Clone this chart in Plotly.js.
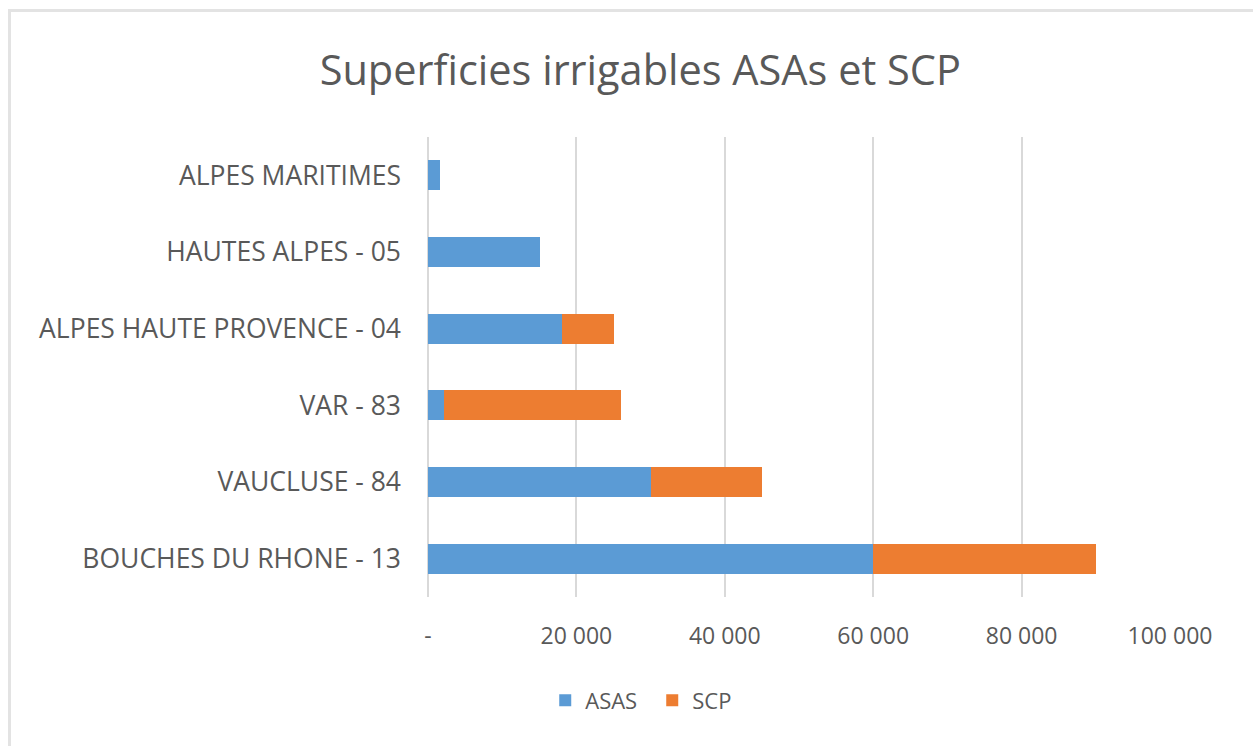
<!DOCTYPE html>
<html>
<head>
<meta charset="utf-8">
<script src="https://cdn.plot.ly/plotly-3.0.1.min.js"></script>
<style>
  html, body { margin: 0; padding: 0; background: #fff; overflow: hidden; }
  #chart { position: absolute; left: 0; top: 0; width: 1253px; height: 746px; }
  #frame { position: absolute; left: 8px; top: 9px; width: 1260px; height: 760px;
           border-left: 3px solid #e3e3e3; border-top: 3px solid #e3e3e3; pointer-events: none; }
</style>
</head>
<body>
<div id="chart"></div>
<div id="frame"></div>
<script>
const categories = ["ALPES MARITIMES", "HAUTES ALPES - 05", "ALPES HAUTE PROVENCE - 04", "VAR - 83", "VAUCLUSE - 84", "BOUCHES DU RHONE - 13"];
const asas = [1600, 15100, 18000, 2100, 30000, 60000];
const scp = [0, 0, 7000, 23900, 15000, 30000];
const tickValues = [0, 20000, 40000, 60000, 80000, 100000];
const tickLabels = ["-", "20 000", "40 000", "60 000", "80 000", "100 000"];

const FONT = "Open Sans, sans-serif";
const GREY = "#595959";

const traces = [
  { type: "bar", orientation: "h", name: "ASAS", y: categories, x: asas,
    marker: { color: "#5B9BD5" }, hoverinfo: "x+y+name" },
  { type: "bar", orientation: "h", name: "SCP", y: categories, x: scp,
    marker: { color: "#ED7D31" }, hoverinfo: "x+y+name" }
];

const layout = {
  width: 1253, height: 746,
  paper_bgcolor: "#fff", plot_bgcolor: "#fff",
  barmode: "stack", bargap: 0.61,
  margin: { l: 428, r: 83, t: 137, b: 149 },
  font: { family: FONT, color: GREY },
  title: { text: "Superficies irrigables ASAs et SCP", x: 0.511, xanchor: "center",
           y: 0.905, yanchor: "middle", font: { family: FONT, size: 41.5, color: GREY } },
  xaxis: { range: [0, 100000], tickvals: tickValues, ticktext: tickLabels,
           showgrid: true, gridcolor: "#d9d9d9", gridwidth: 2,
           zeroline: true, zerolinecolor: "#d9d9d9", zerolinewidth: 2,
           showline: false, ticks: "", ticklabelstandoff: 23,
           tickfont: { family: FONT, size: 23, color: GREY }, fixedrange: true },
  yaxis: { autorange: "reversed", showgrid: false, zeroline: false, showline: false,
           ticks: "", ticklabelstandoff: 26,
           tickfont: { family: FONT, size: 26.5, color: GREY }, fixedrange: true },
  showlegend: true,
  legend: { orientation: "h", x: 0.158, xanchor: "left", y: -0.225, yanchor: "middle",
            font: { family: FONT, size: 22, color: GREY }, traceorder: "normal",
            itemwidth: 30, entrywidth: 62, entrywidthmode: "pixels" }
};

Plotly.newPlot("chart", traces, layout, { displayModeBar: false, staticPlot: false });
</script>
</body>
</html>
